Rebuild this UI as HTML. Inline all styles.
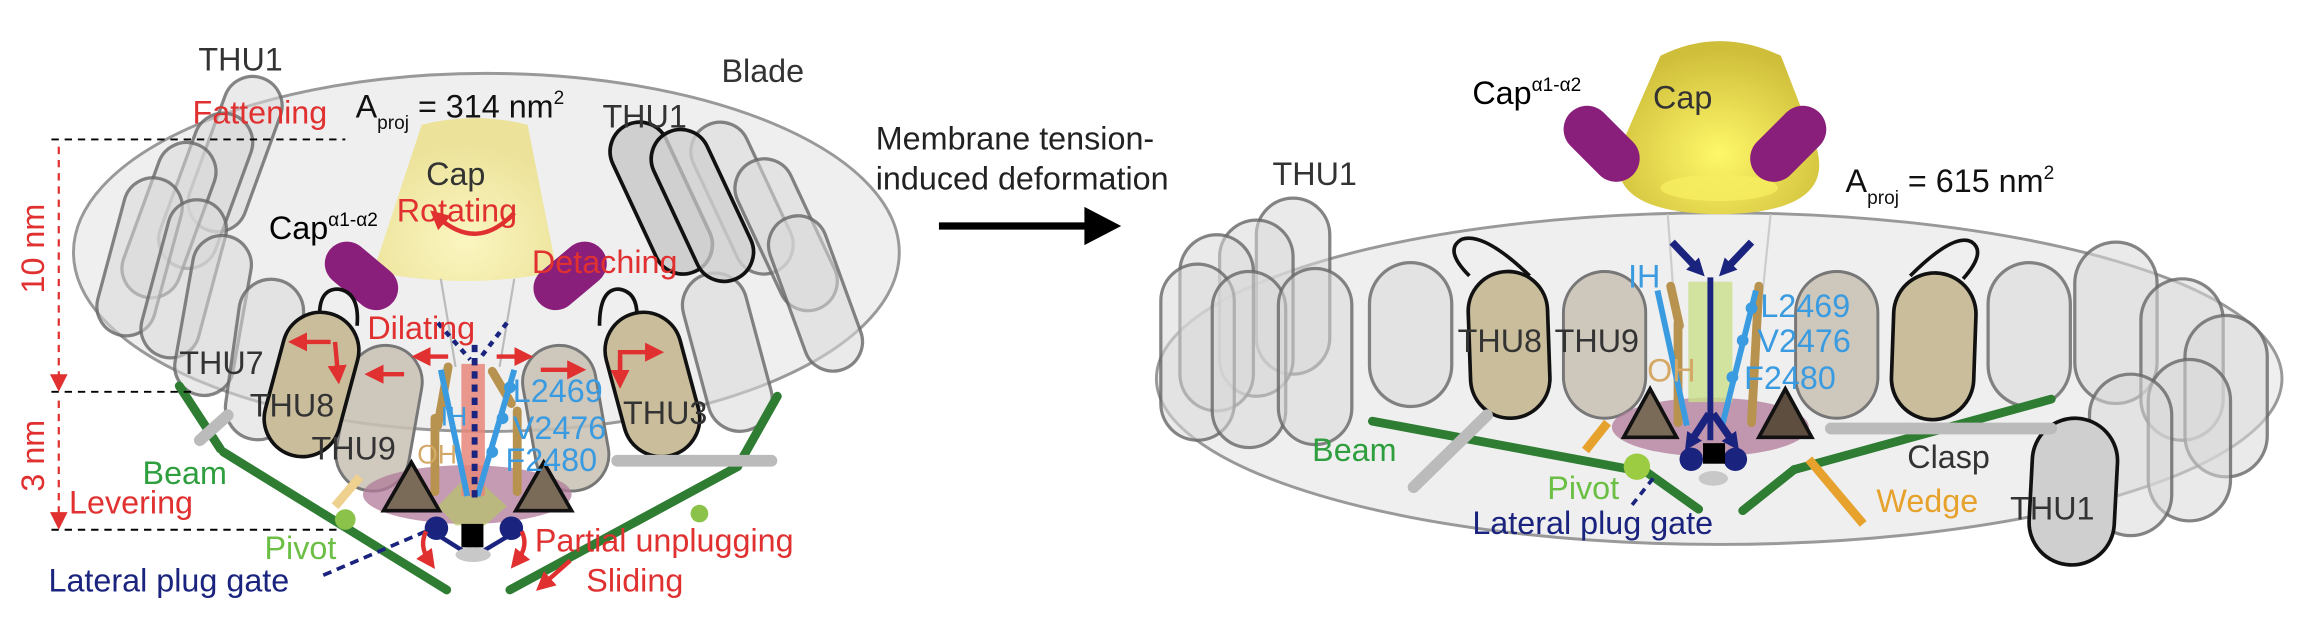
<!DOCTYPE html>
<html><head><meta charset="utf-8"><style>
html,body{margin:0;padding:0;background:#fff;}
svg{display:block;}
text{font-family:"Liberation Sans",sans-serif;}
</style></head><body>
<svg width="2304" height="631" viewBox="0 0 1568 430" preserveAspectRatio="none" xmlns="http://www.w3.org/2000/svg">
<defs>
<marker id="ra" markerUnits="userSpaceOnUse" markerWidth="13" markerHeight="13" refX="6" refY="6.5" orient="auto"><path d="M0,0L13,6.5L0,13z" fill="#e03030"/></marker>
<marker id="ba" markerUnits="userSpaceOnUse" markerWidth="12" markerHeight="12" refX="6" refY="6" orient="auto"><path d="M0,0L12,6L0,12z" fill="#1a237e"/></marker>
<radialGradient id="cap1" cx="0.5" cy="0.75" r="0.6"><stop offset="0" stop-color="#fbf6c0"/><stop offset="1" stop-color="#ece29a"/></radialGradient>
<radialGradient id="cap2" cx="0.5" cy="0.65" r="0.6"><stop offset="0" stop-color="#fff86a"/><stop offset="1" stop-color="#cfbe3a"/></radialGradient>
</defs>

<!-- ===== LEFT PANEL ===== -->
<ellipse cx="331" cy="172" rx="281" ry="122" fill="#efefef" stroke="#999" stroke-width="2"/>
<g fill="#d9d9d9" fill-opacity="0.55" stroke="#666" stroke-width="2.2" stroke-opacity="0.8">
 <rect x="-20" y="-55" width="40" height="110" rx="20" transform="translate(160,105) rotate(20)"/>
 <rect x="-20" y="-55" width="40" height="110" rx="20" transform="translate(140,130) rotate(20)"/>
 <rect x="-20" y="-55" width="40" height="110" rx="20" transform="translate(115,150) rotate(20)"/>
 <rect x="-20" y="-55" width="40" height="110" rx="20" transform="translate(95,175) rotate(15)"/>
 <rect x="-20" y="-55" width="40" height="110" rx="20" transform="translate(125,190) rotate(15)"/>
 <rect x="-20" y="-55" width="40" height="110" rx="20" transform="translate(145,215) rotate(10)"/>
 <rect x="-22" y="-55" width="44" height="110" rx="22" transform="translate(180,245) rotate(8)"/>
 <rect x="-20" y="-55" width="40" height="110" rx="20" transform="translate(505,135) rotate(-25)"/>
 <rect x="-20" y="-55" width="40" height="110" rx="20" transform="translate(535,160) rotate(-25)"/>
 <rect x="-20" y="-55" width="40" height="110" rx="20" transform="translate(555,200) rotate(-20)"/>
 <rect x="-22" y="-55" width="44" height="110" rx="22" transform="translate(495,240) rotate(-15)"/>
</g>
<g fill="#cfcfcf" stroke="#111" stroke-width="2.5">
 <rect x="-20" y="-55" width="40" height="110" rx="20" transform="translate(450,135) rotate(-25)"/>
 <rect x="-20" y="-55" width="40" height="110" rx="20" transform="translate(478,140) rotate(-25)" fill-opacity="0.8"/>
</g>
<path d="M287,85 Q323,76 359,85 L379,185 Q318,198 254,185 Z" fill="url(#cap1)"/>
<path d="M300,145 Q325,172 352,148" fill="none" stroke="#e03030" stroke-width="3" marker-end="url(#ra)" transform="matrix(-1,0,0,1,650,0)"/>
<rect x="-15" y="-28" width="30" height="56" rx="15" fill="#8a1f7b" transform="translate(246,188) rotate(-50)"/>
<rect x="-15" y="-28" width="30" height="56" rx="15" fill="#8a1f7b" transform="translate(388,188) rotate(50)"/>
<g stroke="#bbb" stroke-width="1.5"><line x1="300" y1="190" x2="310" y2="250"/><line x1="350" y1="190" x2="340" y2="250"/></g>
<g fill="#c8bfb3" fill-opacity="0.85" stroke="#777" stroke-width="2">
 <rect x="-25" y="-50" width="50" height="100" rx="25" transform="translate(258,285) rotate(10)"/>
 <rect x="-25" y="-50" width="50" height="100" rx="25" transform="translate(385,285) rotate(-10)"/>
</g>
<g fill="#c9bd9b" stroke="#111" stroke-width="2.5">
 <path d="M218,222 Q215,197 230,197 Q245,199 243,222" fill="none"/>
 <rect x="-26" y="-50" width="52" height="100" rx="26" transform="translate(212,262) rotate(15)"/>
 <path d="M408,222 Q408,197 421,197 Q436,199 433,222" fill="none"/>
 <rect x="-26" y="-50" width="52" height="100" rx="26" transform="translate(444,262) rotate(-15)"/>
</g>
<g stroke="#e03030" stroke-width="3" fill="none" marker-end="url(#ra)">
 <path d="M225,233 L203,233"/><path d="M228,233 L230,255"/>
 <path d="M275,255 L255,255"/>
 <path d="M422,255 L422,240 L445,240"/><path d="M422,243 L422,258"/>
 <path d="M368,252 L392,252"/>
 <path d="M305,243 L287,243"/><path d="M338,243 L356,243"/>
</g>
<ellipse cx="318" cy="337" rx="71" ry="20" fill="#b07a98" fill-opacity="0.75"/>
<path d="M298,345 L320,322 L345,345 L330,358 L310,358 Z" fill="#b7c46a" fill-opacity="0.7"/>
<rect x="314" y="248" width="16" height="90" fill="#e8867a" fill-opacity="0.85"/>
<g stroke="#b8924f" stroke-width="6" stroke-linecap="round">
 <line x1="305" y1="250" x2="298" y2="290"/><line x1="296" y1="285" x2="296" y2="335"/>
 <line x1="335" y1="253" x2="348" y2="275"/><line x1="352" y1="280" x2="352" y2="335"/>
</g>
<g stroke="#3a9be0" stroke-width="4"><line x1="300" y1="252" x2="318" y2="338"/><line x1="350" y1="252" x2="325" y2="338"/></g>
<g fill="#3a9be0"><circle cx="347" cy="264" r="4"/><circle cx="342" cy="285" r="4"/><circle cx="335" cy="308" r="4"/></g>
<line x1="323" y1="235" x2="323" y2="340" stroke="#1a237e" stroke-width="4" stroke-dasharray="5,4"/>
<line x1="298" y1="220" x2="320" y2="245" stroke="#1a237e" stroke-width="3" stroke-dasharray="4,4"/>
<line x1="345" y1="220" x2="326" y2="245" stroke="#1a237e" stroke-width="3" stroke-dasharray="4,4"/>
<polygon points="280,315 299,348 261,348" fill="#7a6a58" stroke="#111" stroke-width="2.5"/>
<polygon points="370,315 389,348 351,348" fill="#7a6a58" stroke="#111" stroke-width="2.5"/>
<circle cx="297" cy="360" r="8" fill="#1a237e"/><circle cx="348" cy="360" r="8" fill="#1a237e"/>
<rect x="314" y="357" width="15" height="16" fill="#000"/>
<g stroke="#1a237e" stroke-width="3"><line x1="297" y1="364" x2="316" y2="376"/><line x1="348" y1="364" x2="328" y2="376"/></g>
<ellipse cx="322" cy="378" rx="12" ry="5" fill="#c8c8c8"/>
<g stroke="#2e7d32" stroke-width="6" stroke-linecap="round">
 <line x1="122" y1="263" x2="150" y2="306"/>
 <line x1="152" y1="308" x2="304" y2="402"/>
 <line x1="529" y1="270" x2="502" y2="318"/>
 <line x1="502" y1="318" x2="347" y2="402"/>
</g>
<line x1="136" y1="300" x2="155" y2="283" stroke="#bbb" stroke-width="8" stroke-linecap="round"/>
<line x1="420" y1="314" x2="525" y2="314" stroke="#bbb" stroke-width="8" stroke-linecap="round"/>
<line x1="228" y1="345" x2="245" y2="325" stroke="#efd18f" stroke-width="6"/>
<circle cx="235" cy="354" r="7" fill="#8bc34a"/><circle cx="476" cy="350" r="6" fill="#8bc34a"/>
<line x1="220" y1="392" x2="290" y2="362" stroke="#1a237e" stroke-width="2.5" stroke-dasharray="6,4"/>
<g stroke="#e03030" stroke-width="3" fill="none" marker-end="url(#ra)">
 <path d="M290,362 Q285,372 292,382"/><path d="M355,362 Q360,372 352,382"/>
 <path d="M388,382 L370,398"/>
</g>
<g stroke="#000" stroke-width="1.3" stroke-dasharray="5,4">
 <line x1="35" y1="95" x2="235" y2="95"/><line x1="35" y1="267" x2="130" y2="267"/><line x1="35" y1="361" x2="230" y2="361"/>
</g>
<g stroke="#e03030" stroke-width="1.5" stroke-dasharray="5,4"><line x1="40" y1="100" x2="40" y2="257"/><line x1="40" y1="273" x2="40" y2="350"/></g>
<polygon points="34,255 46,255 40,267" fill="#e03030"/><polygon points="34,349 46,349 40,361" fill="#e03030"/>
<text transform="translate(30,200) rotate(-90)" font-size="22" fill="#e03030">10 nm</text>
<text transform="translate(30,335) rotate(-90)" font-size="22" fill="#e03030">3 nm</text>
<g font-size="22">
<text x="135" y="48" fill="#333">THU1</text>
<text x="491" y="56" fill="#333">Blade</text>
<text x="131" y="84" fill="#e03030">Fattening</text>
<text x="242" y="80" fill="#111">A<tspan font-size="13" dy="8">proj</tspan><tspan dy="-8"> = 314 nm</tspan><tspan font-size="13" dy="-9">2</tspan></text>
<text x="410" y="87" fill="#333">THU1</text>
<text x="290" y="126" fill="#333">Cap</text>
<text x="270" y="151" fill="#e03030">Rotating</text>
<text x="183" y="163" fill="#000">Cap<tspan font-size="13" dy="-9">α1-α2</tspan></text>
<text x="362" y="186" fill="#e03030">Detaching</text>
<text x="250" y="231" fill="#e03030">Dilating</text>
<text x="122" y="255" fill="#333">THU7</text>
<text x="170" y="284" fill="#333">THU8</text>
<text x="212" y="313" fill="#333">THU9</text>
<text x="424" y="289" fill="#333">THU3</text>
<text x="349" y="274" fill="#3a9be0">L2469</text>
<text x="349" y="299" fill="#3a9be0">V2476</text>
<text x="344" y="321" fill="#3a9be0">F2480</text>
<text x="300" y="290" fill="#3a9be0" font-size="18">IH</text>
<text x="284" y="316" fill="#d4a866" font-size="18">OH</text>
<text x="97" y="330" fill="#2e9e3e">Beam</text>
<text x="47" y="350" fill="#e03030">Levering</text>
<text x="180" y="381" fill="#6cbf45">Pivot</text>
<text x="33" y="403" fill="#1a237e">Lateral plug gate</text>
<text x="364" y="376" fill="#e03030">Partial unplugging</text>
<text x="399" y="403" fill="#e03030">Sliding</text>
</g>

<text x="596" y="102" font-size="22" fill="#222">Membrane tension-</text>
<text x="596" y="129" font-size="22" fill="#222">induced deformation</text>
<line x1="639" y1="154" x2="740" y2="154" stroke="#000" stroke-width="5"/>
<polygon points="738,141 763,154 738,167" fill="#000"/>

<!-- ===== RIGHT PANEL ===== -->
<ellipse cx="1170" cy="258" rx="383" ry="113" fill="#efefef" stroke="#999" stroke-width="2"/>
<g fill="#d9d9d9" fill-opacity="0.55" stroke="#666" stroke-width="2.2" stroke-opacity="0.8">
 <rect x="-25" y="-60" width="50" height="120" rx="25" transform="translate(880,195)"/>
 <rect x="-25" y="-60" width="50" height="120" rx="25" transform="translate(855,210)"/>
 <rect x="-25" y="-60" width="50" height="120" rx="25" transform="translate(828,220)"/>
 <rect x="-25" y="-60" width="50" height="120" rx="25" transform="translate(815,240)"/>
 <rect x="-25" y="-60" width="50" height="120" rx="25" transform="translate(850,245)"/>
 <rect x="-25" y="-60" width="50" height="120" rx="25" transform="translate(895,243)"/>
 <rect x="-28" y="-49" width="56" height="98" rx="28" transform="translate(960,228)"/>
 <rect x="-28" y="-49" width="56" height="98" rx="28" transform="translate(1381,228)"/>
 <rect x="-28" y="-55" width="56" height="110" rx="28" transform="translate(1440,220)"/>
 <rect x="-28" y="-55" width="56" height="110" rx="28" transform="translate(1485,245)"/>
 <rect x="-28" y="-55" width="56" height="110" rx="28" transform="translate(1515,270)"/>
 <rect x="-28" y="-55" width="56" height="110" rx="28" transform="translate(1490,300)"/>
 <rect x="-28" y="-55" width="56" height="110" rx="28" transform="translate(1450,310)"/>
</g>
<g fill="#c8bfb3" fill-opacity="0.85" stroke="#777" stroke-width="2">
 <rect x="-28" y="-50" width="56" height="100" rx="28" transform="translate(1092,235)"/>
 <rect x="-28" y="-50" width="56" height="100" rx="28" transform="translate(1250,235)"/>
</g>
<g fill="#c9bd9b" stroke="#111" stroke-width="2.5">
 <path d="M1000,188 Q982,170 995,163 Q1010,158 1041,188" fill="none"/>
 <rect x="-27" y="-50" width="54" height="100" rx="27" transform="translate(1027,235) rotate(-2)"/>
 <path d="M1300,188 Q1330,158 1342,165 Q1352,172 1336,190" fill="none"/>
 <rect x="-28" y="-50" width="56" height="100" rx="28" transform="translate(1316,236) rotate(2)"/>
</g>
<rect x="-29" y="-50" width="58" height="100" rx="29" fill="#cfcfcf" stroke="#111" stroke-width="2.5" transform="translate(1411,335) rotate(3)"/>
<path d="M1130,38 Q1170,18 1212,38 L1236,100 Q1250,145 1170,146 Q1090,145 1103,100 Z" fill="url(#cap2)"/>
<ellipse cx="1170" cy="128" rx="40" ry="9" fill="#f7ee60" opacity="0.8"/>
<rect x="-16" y="-30" width="32" height="60" rx="16" fill="#8a1f7b" transform="translate(1090,98) rotate(-45)"/>
<rect x="-16" y="-30" width="32" height="60" rx="16" fill="#8a1f7b" transform="translate(1217,98) rotate(45)"/>
<g stroke="#ccc" stroke-width="1.5"><line x1="1135" y1="146" x2="1140" y2="215"/><line x1="1205" y1="146" x2="1198" y2="215"/></g>
<ellipse cx="1164" cy="291" rx="67" ry="20" fill="#b07a98" fill-opacity="0.75"/>
<rect x="1149" y="192" width="30" height="82" fill="#c9e08a" fill-opacity="0.8"/>
<g stroke="#b8924f" stroke-width="6" stroke-linecap="round">
 <line x1="1137" y1="195" x2="1143" y2="222"/><line x1="1142" y1="220" x2="1142" y2="288"/>
 <line x1="1197" y1="195" x2="1192" y2="288"/>
</g>
<g stroke="#3a9be0" stroke-width="4"><line x1="1128" y1="198" x2="1148" y2="290"/><line x1="1195" y1="198" x2="1172" y2="290"/></g>
<g fill="#3a9be0"><circle cx="1192" cy="210" r="4"/><circle cx="1186" cy="232" r="4"/><circle cx="1179" cy="257" r="4"/></g>
<line x1="1164" y1="189" x2="1164" y2="300" stroke="#1a237e" stroke-width="4"/>
<g stroke="#1a237e" stroke-width="5" fill="none" marker-end="url(#ba)">
 <line x1="1138" y1="165" x2="1156" y2="184"/><line x1="1192" y1="165" x2="1174" y2="184"/>
 <line x1="1163" y1="282" x2="1150" y2="302"/><line x1="1166" y1="282" x2="1180" y2="302"/>
</g>
<polygon points="1123,265 1141,298 1105,298" fill="#7a6a58" stroke="#111" stroke-width="2.5"/>
<polygon points="1215,265 1233,298 1197,298" fill="#5e4e40" stroke="#111" stroke-width="2.5"/>
<circle cx="1151" cy="313" r="8" fill="#1a237e"/><circle cx="1181" cy="313" r="8" fill="#1a237e"/>
<rect x="1159" y="302" width="15" height="14" fill="#000"/>
<ellipse cx="1166" cy="326" rx="10" ry="5" fill="#c8c8c8"/>
<g stroke="#2e7d32" stroke-width="6" stroke-linecap="round">
 <line x1="934" y1="287" x2="1121" y2="322"/><line x1="1121" y1="322" x2="1156" y2="347"/>
 <line x1="1186" y1="348" x2="1221" y2="320"/><line x1="1221" y1="320" x2="1396" y2="272"/>
</g>
<line x1="1012" y1="283" x2="962" y2="332" stroke="#bbb" stroke-width="8" stroke-linecap="round"/>
<line x1="1246" y1="292" x2="1396" y2="292" stroke="#bbb" stroke-width="8" stroke-linecap="round"/>
<line x1="1231" y1="313" x2="1268" y2="357" stroke="#e6a22c" stroke-width="6"/>
<line x1="1094" y1="288" x2="1079" y2="307" stroke="#e6a22c" stroke-width="6"/>
<circle cx="1114" cy="318" r="9" fill="#9ccc42"/>
<line x1="1125" y1="326" x2="1110" y2="345" stroke="#1a237e" stroke-width="2.5" stroke-dasharray="5,4"/>
<g font-size="22">
<text x="1002" y="71" fill="#000">Cap<tspan font-size="13" dy="-9">α1-α2</tspan></text>
<text x="1125" y="74" fill="#333">Cap</text>
<text x="1256" y="131" fill="#111">A<tspan font-size="13" dy="8">proj</tspan><tspan dy="-8"> = 615 nm</tspan><tspan font-size="13" dy="-9">2</tspan></text>
<text x="866" y="126" fill="#333">THU1</text>
<text x="1108" y="196" fill="#3a9be0">IH</text>
<text x="1198" y="216" fill="#3a9be0">L2469</text>
<text x="1196" y="240" fill="#3a9be0">V2476</text>
<text x="1187" y="265" fill="#3a9be0">F2480</text>
<text x="992" y="240" fill="#333">THU8</text>
<text x="1058" y="240" fill="#333">THU9</text>
<text x="1121" y="260" fill="#d4a866">OH</text>
<text x="893" y="314" fill="#2e9e3e">Beam</text>
<text x="1053" y="340" fill="#6cbf45">Pivot</text>
<text x="1002" y="364" fill="#1a237e">Lateral plug gate</text>
<text x="1298" y="319" fill="#333">Clasp</text>
<text x="1277" y="349" fill="#e6a22c">Wedge</text>
<text x="1368" y="354" fill="#333">THU1</text>
</g>
</svg>
</body></html>
